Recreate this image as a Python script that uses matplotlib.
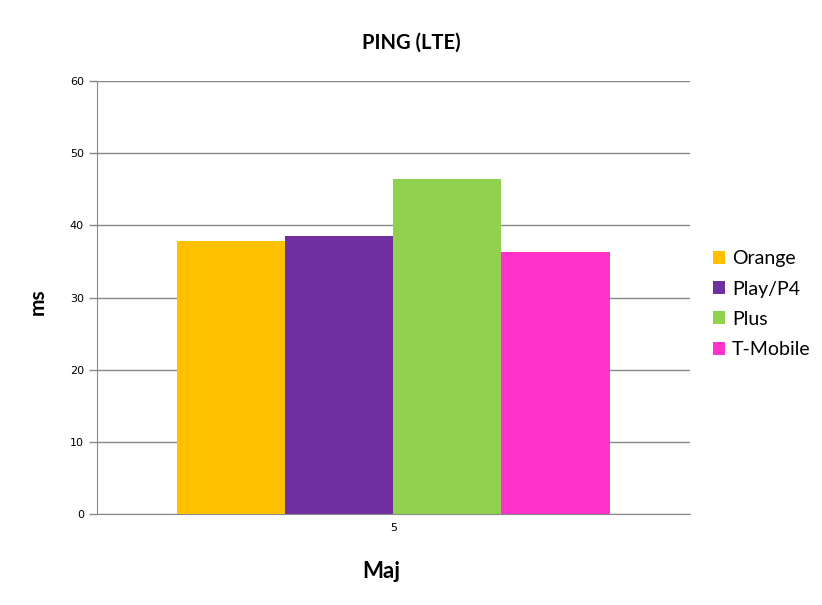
import matplotlib
matplotlib.use("Agg")
import matplotlib.pyplot as plt
import numpy as np

categories = ["5"]
operators = ["Orange", "Play/P4", "Plus", "T-Mobile"]
ping_ms = [37.8, 38.5, 46.4, 36.3]
colors = ["#FFC000", "#7030A0", "#92D050", "#FF33CC"]
y_ticks = [0, 10, 20, 30, 40, 50, 60]

fig = plt.figure(figsize=(8.22, 6.05), dpi=100)
ax = fig.add_axes([0.118, 0.150, 0.721, 0.716])

n = len(operators)
bar_w = 0.73 / n
x = np.arange(len(categories))
for i, (name, val, col) in enumerate(zip(operators, ping_ms, colors)):
    ax.bar(x + (i - (n - 1) / 2) * bar_w, [val], width=bar_w, color=col,
           label=name, zorder=3)

ax.set_xlim(-0.5, 0.5)
ax.set_ylim(0, 60)
ax.set_yticks(y_ticks)
ax.set_xticks(x)
ax.set_xticklabels(categories)
ax.yaxis.grid(True, color="#888888", linewidth=1, zorder=0)
for side in ["top", "right"]:
    ax.spines[side].set_visible(False)
for side in ["left", "bottom"]:
    ax.spines[side].set_color("#888888")
ax.tick_params(axis="y", colors="#888888", labelcolor="black", labelsize=8,
               length=6, width=1)
ax.tick_params(axis="x", length=0, labelsize=8, pad=6)

fig.text(0.5, 0.930, "PING (LTE)", fontsize=14.5, fontweight="bold",
         family="Lato", ha="center", va="center")
ax.set_ylabel("ms", fontsize=15, fontweight="bold", family="Lato")
ax.yaxis.set_label_coords(-0.083, 0.49)
ax.set_xlabel("Maj", fontsize=16, fontweight="bold", family="Lato")
ax.xaxis.set_label_coords(0.479, -0.107)

ax.legend(loc="center left", bbox_to_anchor=(1.039, 0.485), frameon=False,
          borderaxespad=0, borderpad=0,
          prop={"family": "Lato", "size": 14}, handlelength=0.65,
          handleheight=0.65, handletextpad=0.35, labelspacing=0.68)

fig.savefig("out.png", dpi=100)
